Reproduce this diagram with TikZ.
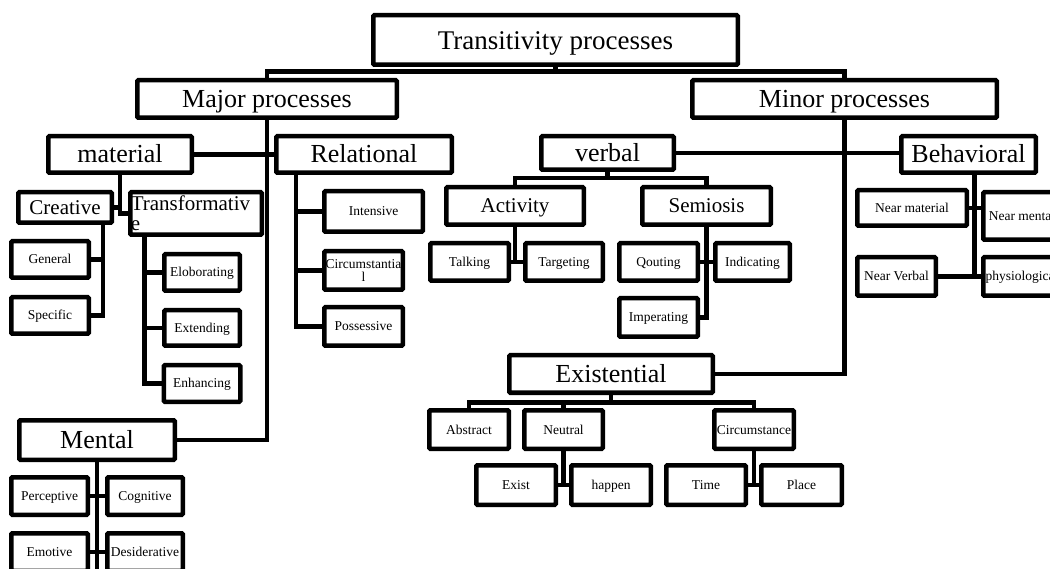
\documentclass[tikz,border=0pt]{standalone}
\usepackage{fontspec}
\setmainfont{Liberation Serif}
\begin{document}
\begin{tikzpicture}[
    x=1pt, y=-1pt,
    % Boxes: heavy black frame, serif text
    box/.style={draw, line width=4.5pt, rounded corners=1pt, inner sep=1pt},
    big/.style={box, font=\fontsize{26}{28}\selectfont, text height=23pt, text depth=6.5pt},
    mid/.style={box, font=\fontsize{21}{22}\selectfont, text height=18.5pt, text depth=5pt},
    small/.style={box, font=\fontsize{13.5}{15}\selectfont, text height=12pt, text depth=3pt},
    % Connectors (same weight as the frames)
    link/.style={line width=4.5pt}
]
    \path[use as bounding box] (0,0) rectangle (1050,569);
    \clip (0,0) rectangle (1050,569);

    % --- Top level ---
    \node[big, font=\fontsize{27}{29}\selectfont, text depth=3pt, minimum width=364.5pt, minimum height=49.5pt] (title) at (555.5,40) {Transitivity processes};
    \node[big, minimum width=259.5pt, minimum height=37.5pt] (major) at (267,99) {Major processes};
    \node[big, minimum width=304.5pt, minimum height=37.5pt] (minor) at (844.5,99) {Minor processes};

    % --- Major processes ---
    \node[big, minimum width=143.5pt, minimum height=36.5pt] (material) at (120,154.5) {material};
    \node[big, minimum width=175.5pt, minimum height=36.5pt] (relational) at (364,154.5) {Relational};
    \node[big, minimum width=155.5pt, minimum height=39.5pt] (mental) at (97,440) {Mental};

    % material
    \node[mid, minimum width=93.5pt, minimum height=30.5pt] (creative) at (65,207.5) {Creative};
    \node[box, font=\fontsize{21}{20}\selectfont, align=left, text width=130.5pt, inner xsep=0.5pt, minimum height=42.5pt] (transf) at (196,213.5) {Transformativ\\e};
    \node[small, minimum width=77.5pt, minimum height=36.5pt] (general) at (50,259.5) {General};
    \node[small, minimum width=77.5pt, minimum height=36.5pt] (specific) at (50,315.5) {Specific};
    \node[small, minimum width=75.5pt, minimum height=36.5pt] (elab) at (202,272.5) {Eloborating};
    \node[small, minimum width=75.5pt, minimum height=35.5pt] (extend) at (202,328) {Extending};
    \node[small, minimum width=76.5pt, minimum height=36.5pt] (enhance) at (202,383.5) {Enhancing};

    % relational
    \node[small, minimum width=98.5pt, minimum height=40.5pt] (intensive) at (373.5,211.5) {Intensive};
    \node[box, font=\fontsize{13.5}{13}\selectfont, align=center, minimum width=78.5pt, minimum height=38.5pt] (circum) at (363.5,270.5) {Circumstantia\\l};
    \node[small, minimum width=78.5pt, minimum height=38.5pt] (possessive) at (363.5,326.5) {Possessive};

    % mental
    \node[small, minimum width=76.5pt, minimum height=37.5pt] (perceptive) at (49.5,496) {Perceptive};
    \node[small, minimum width=75.5pt, minimum height=37.5pt] (cognitive) at (145,496) {Cognitive};
    \node[small, minimum width=76.5pt, minimum height=37.5pt] (emotive) at (49.5,552) {Emotive};
    \node[small, minimum width=75.5pt, minimum height=37.5pt] (desid) at (145,552) {Desiderative};

    % --- Minor processes ---
    \node[big, minimum width=132.5pt, minimum height=33.5pt] (verbal) at (607.5,153) {verbal};
    \node[big, minimum width=134.5pt, minimum height=36.5pt] (behav) at (968.5,154.5) {Behavioral};
    \node[big, minimum width=203.5pt, minimum height=37.5pt] (existl) at (611,374) {Existential};

    % verbal
    \node[mid, minimum width=137.5pt, minimum height=37.5pt] (activity) at (515,206) {Activity};
    \node[mid, minimum width=128.5pt, minimum height=37.5pt] (semiosis) at (706.5,206) {Semiosis};
    \node[small, minimum width=78.5pt, minimum height=37.5pt] (talking) at (469.5,262) {Talking};
    \node[small, minimum width=77.5pt, minimum height=37.5pt] (targeting) at (564,262) {Targeting};
    \node[small, minimum width=78.5pt, minimum height=37.5pt] (qouting) at (658.5,262) {Qouting};
    \node[small, minimum width=74.5pt, minimum height=37.5pt] (indicating) at (752.5,262) {Indicating};
    \node[small, minimum width=78.5pt, minimum height=38.5pt] (imperating) at (658.5,317.5) {Imperating};

    % existential
    \node[small, minimum width=79.5pt, minimum height=38.5pt] (abstract) at (469,429.5) {Abstract};
    \node[small, minimum width=78.5pt, minimum height=38.5pt] (neutral) at (563.5,429.5) {Neutral};
    \node[small, inner xsep=0pt, minimum width=79.5pt, minimum height=38.5pt] (circumst) at (754,429.5) {Circumstance};
    \node[small, minimum width=79.5pt, minimum height=39.5pt] (exist) at (516,485) {Exist};
    \node[small, minimum width=79.5pt, minimum height=39.5pt] (happen) at (611,485) {happen};
    \node[small, minimum width=79.5pt, minimum height=39.5pt] (time) at (706,485) {Time};
    \node[small, minimum width=80.5pt, minimum height=39.5pt] (place) at (801.5,485) {Place};

    % behavioral
    \node[small, minimum width=109.5pt, minimum height=35.5pt] (nearmat) at (912,208) {Near material};
    \node[small, minimum width=77.5pt, minimum height=47.5pt] (nearment) at (1022,216) {Near mental};
    \node[small, minimum width=78.5pt, minimum height=38.5pt] (nearverb) at (896.5,276.5) {Near Verbal};
    \node[small, minimum width=77.5pt, minimum height=38.5pt] (physio) at (1022,276.5) {physiological};

    % --- Connectors ---
    % top level
    \draw[link] (major.north) -- ++(0,-6.5) coordinate (topbar) -| (minor.north);
    \draw[link] (title.south) -- (title.south |- topbar);

    % major processes
    \draw[link] (major.south) |- (mental.east);
    \draw[link] (material.east) -- (relational.west);
    \draw[link] (material.south) |- (transf.west);
    \draw[link] (creative.east) -- (creative.east -| material.south);

    \coordinate (crbus) at ([xshift=38pt]creative.south);
    \draw[link] (crbus) |- (specific.east);
    \draw[link] (general.east) -- (general.east -| crbus);

    \coordinate (trbus) at ([xshift=16.5pt]transf.south west);
    \draw[link] (trbus) |- (enhance.west);
    \draw[link] (elab.west) -- (elab.west -| trbus);
    \draw[link] (extend.west) -- (extend.west -| trbus);

    \coordinate (relbus) at ([xshift=22pt]relational.south west);
    \draw[link] (relbus) |- (possessive.west);
    \draw[link] (intensive.west) -- (intensive.west -| relbus);
    \draw[link] (circum.west) -- (circum.west -| relbus);

    \draw[link] (mental.south) -- (mental.south |- emotive.south);
    \draw[link] (perceptive.east) -- (cognitive.west);
    \draw[link] (emotive.east) -- (desid.west);

    % minor processes
    \draw[link] (minor.south) |- (existl.east);
    \draw[link] (verbal.east) -- (verbal.east -| behav.west);

    \draw[link] (verbal.south) -- ++(0,6) coordinate (vbar);
    \draw[link] (activity.north) |- (vbar) -| (semiosis.north);
    \draw[link] (activity.south) -- (activity.south |- talking.east);
    \draw[link] (talking.east) -- (targeting.west);
    \draw[link] (semiosis.south) |- (imperating.east);
    \draw[link] (qouting.east) -- (indicating.west);

    \draw[link] (existl.south) -- ++(0,7.5) coordinate (ebar);
    \draw[link] (abstract.north) |- (ebar) -| (circumst.north);
    \draw[link] (neutral.north) -- (neutral.north |- ebar);
    \draw[link] (neutral.south) -- (neutral.south |- exist.east);
    \draw[link] (exist.east) -- (happen.west);
    \draw[link] (circumst.south) -- (circumst.south |- time.east);
    \draw[link] (time.east) -- (place.west);

    \coordinate (bhbus) at ([xshift=6pt]behav.south);
    \draw[link] (bhbus) |- (nearverb.east);
    \draw[link] (nearverb.east) -- (physio.west);
    \draw[link] (nearmat.east) -- (nearmat.east -| nearment.west);

\end{tikzpicture}
\end{document}
